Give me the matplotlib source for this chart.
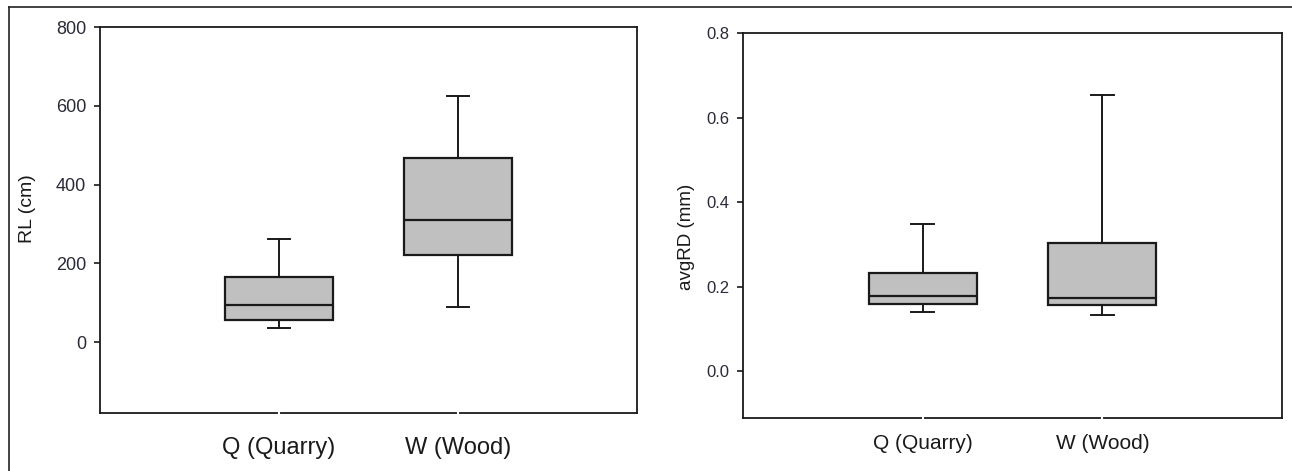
import matplotlib.pyplot as plt
from matplotlib.lines import Line2D

# values
groups = ["Q (Quarry)", "W (Wood)"]

rl_whislo = [37, 90]
rl_q1 = [57, 221]
rl_med = [94, 310]
rl_q3 = [166, 468]
rl_whishi = [262, 626]

rd_whislo = [0.141, 0.133]
rd_q1 = [0.159, 0.156]
rd_med = [0.178, 0.173]
rd_q3 = [0.232, 0.303]
rd_whishi = [0.348, 0.653]

rl_ticks = [0, 200, 400, 600, 800]
rd_ticks = [0.0, 0.2, 0.4, 0.6, 0.8]

plt.rcParams['font.family'] = ['Liberation Sans', 'DejaVu Sans']


def make_stats(lo, q1, med, q3, hi):
    stats = []
    for i in range(len(groups)):
        stats.append({'whislo': lo[i], 'q1': q1[i], 'med': med[i],
                      'q3': q3[i], 'whishi': hi[i], 'fliers': []})
    return stats


def draw_panel(ax, stats, ticks, tick_fmt, ylim, ylabel, tick_size, xlab_size, ylab_size, xpad):
    ax.bxp(stats, positions=[1, 2], widths=0.6, showfliers=False, patch_artist=True,
           boxprops=dict(facecolor='#c0c0c0', edgecolor='#1a1a1a', linewidth=1.6),
           medianprops=dict(color='#1a1a1a', linewidth=1.6),
           whiskerprops=dict(color='#1a1a1a', linewidth=1.4),
           capprops=dict(color='#1a1a1a', linewidth=1.4),
           capwidths=0.125)
    ax.set_xlim(0, 3)
    ax.set_ylim(*ylim)
    ax.set_yticks(ticks)
    ax.set_yticklabels([tick_fmt.format(t) for t in ticks], color='#2a2a3a')
    ax.set_xticks([1, 2])
    ax.set_xticklabels(groups, fontsize=xlab_size, color='#1a1a1a')
    ax.tick_params(axis='y', labelsize=tick_size, length=4, width=1.2, pad=6, color='#1a1a1a')
    # white notches through the bottom axis at the group positions
    ax.tick_params(axis='x', length=5, width=1.5, direction='inout', color='white', pad=xpad)
    ax.set_axisbelow(False)
    for sp in ax.spines.values():
        sp.set_linewidth(1.3)
        sp.set_color('#1a1a1a')
        sp.set_zorder(2.4)
    ax.set_ylabel(ylabel, fontsize=ylab_size, color='#1a1a1a')


fig = plt.figure(figsize=(12.92, 4.71), dpi=100)

ax1 = fig.add_axes([0.0774, 0.1231, 0.4156, 0.8195])
draw_panel(ax1, make_stats(rl_whislo, rl_q1, rl_med, rl_q3, rl_whishi),
           rl_ticks, '{:d}', (-180, 800), 'RL (cm)', 13, 17, 14, 15)
ax1.yaxis.set_label_coords(-0.12, 0.53)

ax2 = fig.add_axes([0.5751, 0.1125, 0.4172, 0.8174])
draw_panel(ax2, make_stats(rd_whislo, rd_q1, rd_med, rd_q3, rd_whishi),
           rd_ticks, '{:.1f}', (-0.11, 0.8), 'avgRD (mm)', 12, 15, 13.5, 9)
ax2.yaxis.set_label_coords(-0.089, 0.47)

# outer frame (top and left edges only are visible in the reference)
fig.add_artist(Line2D([9 / 1292, 1], [1 - 7 / 471, 1 - 7 / 471], transform=fig.transFigure,
                      color='#222222', linewidth=1.2))
fig.add_artist(Line2D([9 / 1292, 9 / 1292], [0, 1 - 7 / 471], transform=fig.transFigure,
                      color='#222222', linewidth=1.2))

fig.savefig('out.png', dpi=100)
